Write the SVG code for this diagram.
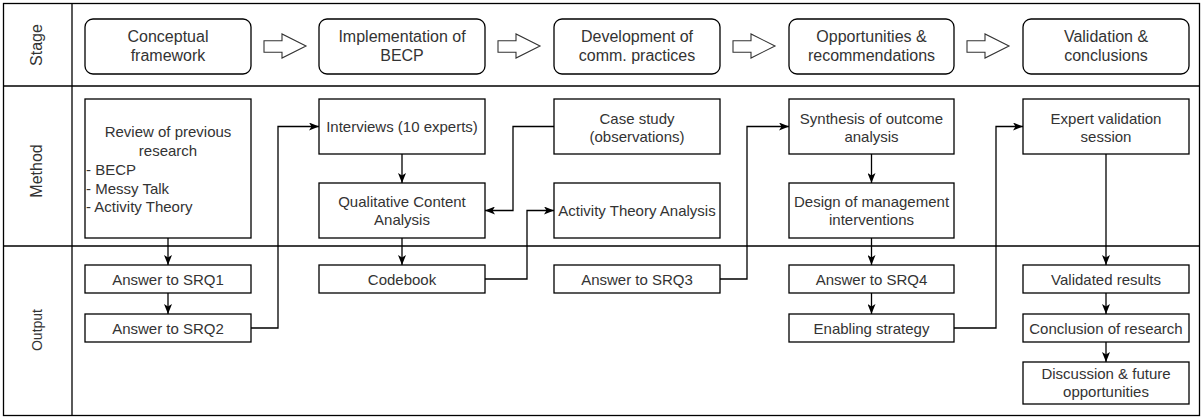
<svg xmlns="http://www.w3.org/2000/svg" width="1204" height="418" viewBox="0 0 1204 418">
  <style>
    .frame { fill: none; stroke: #000; stroke-width: 1.3; }
    .stage { fill: #fff; stroke: #000; stroke-width: 1.3; }
    .box { fill: #fff; stroke: #000; stroke-width: 1.3; }
    .flow { fill: #fff; stroke: #333; stroke-width: 1.1; }
    .conn { fill: none; stroke: #000; stroke-width: 1.3; marker-end: url(#head); }
    text { font-family: "Liberation Sans", Arial, Helvetica, sans-serif; fill: #333; }
    .t16 { font-size: 16px; text-anchor: middle; }
    .t15 { font-size: 15px; text-anchor: middle; }
    .tl { font-size: 15px; text-anchor: start; }
    .lane { font-size: 16px; text-anchor: middle; }
  </style>
  <defs>
    <marker id="head" markerUnits="userSpaceOnUse" markerWidth="10" markerHeight="8" viewBox="0 0 10 8" refX="10" refY="4" orient="auto">
      <path d="M0,0 L10,4 L0,8 L2.5,4 Z" fill="#000"/>
    </marker>
    <path id="block-arrow" d="M0,6.7 H18 V0 L42,12 L18,24 V18.3 H0 Z"/>
  </defs>

  <!-- swimlane table -->
  <g id="lanes">
    <rect class="frame" x="3.5" y="3.5" width="1196" height="412"/>
    <line class="frame" x1="72" y1="3.5" x2="72" y2="415.5"/>
    <line class="frame" x1="3.5" y1="86" x2="1199.5" y2="86"/>
    <line class="frame" x1="3.5" y1="246" x2="1199.5" y2="246"/>
    <text class="lane" transform="translate(42,45) rotate(-90)">Stage</text>
    <text class="lane" transform="translate(42,171) rotate(-90)">Method</text>
    <text class="lane" transform="translate(42,330) rotate(-90)" style="font-size:14px">Output</text>
  </g>

  <!-- stage sequence -->
  <g id="stage-conceptual">
    <rect class="stage" x="85" y="19" width="166" height="55" rx="8"/>
    <text class="t16" x="168" y="42">Conceptual</text>
    <text class="t16" x="168" y="61">framework</text>
  </g>
  <g id="stage-implementation">
    <rect class="stage" x="319" y="19" width="166" height="55" rx="8"/>
    <text class="t16" x="402" y="42">Implementation of</text>
    <text class="t16" x="402" y="61">BECP</text>
  </g>
  <g id="stage-development">
    <rect class="stage" x="554" y="19" width="166" height="55" rx="8"/>
    <text class="t16" x="637" y="42">Development of</text>
    <text class="t16" x="637" y="61">comm. practices</text>
  </g>
  <g id="stage-opportunities">
    <rect class="stage" x="789" y="19" width="165" height="55" rx="8"/>
    <text class="t16" x="871.5" y="42">Opportunities &amp;</text>
    <text class="t16" x="871.5" y="61">recommendations</text>
  </g>
  <g id="stage-validation">
    <rect class="stage" x="1023" y="19" width="166" height="55" rx="8"/>
    <text class="t16" x="1106" y="42">Validation &amp;</text>
    <text class="t16" x="1106" y="61">conclusions</text>
  </g>
  <g id="stage-arrows">
    <use href="#block-arrow" class="flow" x="264" y="34"/>
    <use href="#block-arrow" class="flow" x="498" y="34"/>
    <use href="#block-arrow" class="flow" x="733" y="34"/>
    <use href="#block-arrow" class="flow" x="967" y="34"/>
  </g>

  <!-- method row -->
  <g id="review">
    <rect class="box" x="85" y="99" width="166" height="139"/>
    <text class="t15" x="168" y="137">Review of previous</text>
    <text class="t15" x="168" y="155.5">research</text>
    <text class="tl" x="86" y="175">- BECP</text>
    <text class="tl" x="86" y="193.5">- Messy Talk</text>
    <text class="tl" x="86" y="212">- Activity Theory</text>
  </g>
  <g id="interviews">
    <rect class="box" x="319" y="99" width="166" height="55"/>
    <text class="t15" x="402" y="131.5">Interviews (10 experts)</text>
  </g>
  <g id="qca">
    <rect class="box" x="319" y="183" width="166" height="55"/>
    <text class="t15" x="402" y="206.5">Qualitative Content</text>
    <text class="t15" x="402" y="225">Analysis</text>
  </g>
  <g id="case-study">
    <rect class="box" x="554" y="99" width="166" height="55"/>
    <text class="t15" x="637" y="123.5">Case study</text>
    <text class="t15" x="637" y="142">(observations)</text>
  </g>
  <g id="ata">
    <rect class="box" x="554" y="183" width="166" height="55"/>
    <text class="t15" x="637" y="215.5">Activity Theory Analysis</text>
  </g>
  <g id="synthesis">
    <rect class="box" x="789" y="99" width="165" height="55"/>
    <text class="t15" x="871.5" y="123.5">Synthesis of outcome</text>
    <text class="t15" x="871.5" y="142">analysis</text>
  </g>
  <g id="design">
    <rect class="box" x="789" y="183" width="165" height="55"/>
    <text class="t15" x="871.5" y="206.5">Design of management</text>
    <text class="t15" x="871.5" y="225">interventions</text>
  </g>
  <g id="expert-session">
    <rect class="box" x="1023" y="99" width="166" height="55"/>
    <text class="t15" x="1106" y="123.5">Expert validation</text>
    <text class="t15" x="1106" y="142">session</text>
  </g>

  <!-- output row -->
  <g id="srq1">
    <rect class="box" x="85" y="265" width="166" height="28"/>
    <text class="t15" x="168" y="284.5">Answer to SRQ1</text>
  </g>
  <g id="srq2">
    <rect class="box" x="85" y="314" width="166" height="28"/>
    <text class="t15" x="168" y="333.5">Answer to SRQ2</text>
  </g>
  <g id="codebook">
    <rect class="box" x="319" y="265" width="166" height="28"/>
    <text class="t15" x="402" y="284.5">Codebook</text>
  </g>
  <g id="srq3">
    <rect class="box" x="554" y="265" width="166" height="28"/>
    <text class="t15" x="637" y="284.5">Answer to SRQ3</text>
  </g>
  <g id="srq4">
    <rect class="box" x="789" y="265" width="165" height="28"/>
    <text class="t15" x="871.5" y="284.5">Answer to SRQ4</text>
  </g>
  <g id="enabling">
    <rect class="box" x="789" y="314" width="165" height="28"/>
    <text class="t15" x="871.5" y="333.5">Enabling strategy</text>
  </g>
  <g id="validated">
    <rect class="box" x="1023" y="265" width="166" height="28"/>
    <text class="t15" x="1106" y="284.5">Validated results</text>
  </g>
  <g id="conclusion">
    <rect class="box" x="1023" y="314" width="166" height="28"/>
    <text class="t15" x="1106" y="333.5">Conclusion of research</text>
  </g>
  <g id="discussion">
    <rect class="box" x="1023" y="362" width="166" height="42"/>
    <text class="t15" x="1106" y="378.5">Discussion &amp; future</text>
    <text class="t15" x="1106" y="397">opportunities</text>
  </g>

  <!-- connectors -->
  <g id="connectors">
    <path class="conn" d="M168,238 V265"/>
    <path class="conn" d="M168,293 V314"/>
    <path class="conn" d="M251,328 H278 V126.5 H319"/>
    <path class="conn" d="M402,154 V183"/>
    <path class="conn" d="M554,126.5 H513 V210.5 H485"/>
    <path class="conn" d="M402,238 V265"/>
    <path class="conn" d="M485,279 H527 V210.5 H554"/>
    <path class="conn" d="M720,279 H747 V126.5 H789"/>
    <path class="conn" d="M871.5,154 V183"/>
    <path class="conn" d="M871.5,238 V265"/>
    <path class="conn" d="M871.5,293 V314"/>
    <path class="conn" d="M954,328 H996 V126.5 H1023"/>
    <path class="conn" d="M1106,154 V265"/>
    <path class="conn" d="M1106,293 V314"/>
    <path class="conn" d="M1106,342 V362"/>
  </g>
</svg>
